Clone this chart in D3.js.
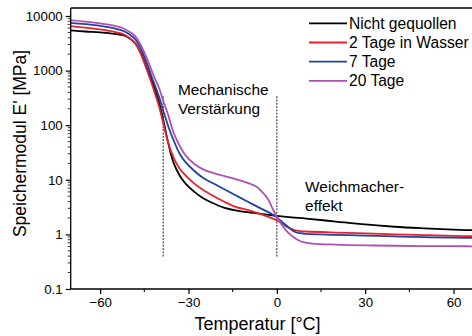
<!DOCTYPE html>
<html>
<head>
<meta charset="utf-8">
<script src="https://cdn.jsdelivr.net/npm/d3@7"></script>
<style>
  html, body { margin: 0; padding: 0; background: #fff; }
  svg { display: block; }
  text { font-family: "Liberation Sans", Arial, sans-serif; fill: #000; }
</style>
</head>
<body>
<svg id="chart" width="472" height="336"></svg>
<script>
// ---------------- DATA ----------------
const seriesNames = ["Nicht gequollen", "2 Tage in Wasser", "7 Tage", "20 Tage"];
const seriesColors = ["#000000", "#ec202a", "#1f43a4", "#b050b2"];

const tempBlack = [-70,-65,-60,-55,-52,-50,-48,-46,-44,-42,-40,-38.5,-37,-36,-35,-33,-31,-28,-25,-22,-18,-14,-10,-5,0,5,10,20,30,40,50,60,70];
const valBlack  = [5450,5200,5000,4700,4400,3900,3100,2000,1050,560,260,120,50,30,20,12,8.5,6,4.6,3.8,3.1,2.75,2.55,2.35,2.18,2.05,1.95,1.72,1.52,1.38,1.29,1.22,1.18];

const tempRed = [-70,-65,-60,-55,-52,-50,-48,-46,-44,-42,-40,-38.5,-37,-35,-33,-31,-28,-25,-22,-18,-14,-10,-5,-2,0,2,4,6,8,10,20,30,40,50,60,70];
const valRed  = [6500,6100,5700,5100,4600,3900,3100,1900,980,480,220,105,50,25,16,12,8.5,6.5,5.2,4.0,3.2,2.8,2.3,2.0,1.8,1.55,1.32,1.2,1.15,1.13,1.08,1.04,1.0,0.97,0.94,0.92];

const tempBlue = [-70,-65,-60,-55,-52,-50,-48,-46,-44,-42,-40,-38.5,-37,-35,-33,-31,-28,-25,-22,-18,-14,-10,-5,-2,0,2,4,6,8,10,20,30,40,50,60,70];
const valBlue  = [7500,7100,6600,5900,5300,4600,3700,2400,1300,650,330,180,100,52,30,21,14.5,10.8,8.8,6.8,5.2,4.0,2.9,2.4,2.05,1.65,1.35,1.12,1.05,1.02,0.98,0.95,0.92,0.89,0.87,0.86];

const tempPurple = [-70,-65,-60,-55,-52,-50,-48,-46,-44,-42,-40,-38.5,-37,-35,-33,-31,-28,-25,-22,-18,-14,-10,-7,-5,-3,-1.5,0,1.5,3,5,7,9,12,20,30,40,50,60,70];
const valPurple  = [8300,7900,7300,6600,5900,5100,4200,2800,1600,850,480,270,160,72,42,28,19.5,15.5,13.5,11.8,10.3,8.8,7.5,6.0,4.4,3.0,2.1,1.55,1.2,0.95,0.8,0.72,0.68,0.65,0.63,0.62,0.61,0.61,0.6];

const seriesTemps = [tempBlack, tempRed, tempBlue, tempPurple];
const seriesVals = [valBlack, valRed, valBlue, valPurple];

const xTicks = [-60, -30, 0, 30, 60];
const xMinorTicks = [-45, -15, 15, 45];
const yTicks = [0.1, 1, 10, 100, 1000, 10000];
const yTickLabels = ["0.1", "1", "10", "100", "1000", "10000"];

const xTitle = "Temperatur [°C]";
const yTitle = "Speichermodul E' [MPa]";

const dashTemps = [-38.6, 0];
const dashRange = [0.38, 340];

const annotations = [
  { lines: ["Mechanische", "Verstärkung"], t: -33.6, v: 357 },
  { lines: ["Weichmacher-", "effekt"], t: 9.6, v: 6.0 }
];

// ---------------- LAYOUT ----------------
const svg = d3.select("#chart");
const plotL = 70.7, plotR = 483, plotT = 8, plotB = 289;
const fontFam = "'Liberation Sans', Arial, sans-serif";

const x = d3.scaleLinear().domain([-70, 70]).range([plotL, plotR]);
const y = d3.scaleLog().domain([0.1, 14000]).range([plotB, plotT]);

svg.append("defs").append("clipPath").attr("id", "clip")
  .append("rect").attr("x", plotL).attr("y", plotT).attr("width", plotR - plotL).attr("height", plotB - plotT);

// dashed guide lines
svg.append("g").selectAll("line").data(dashTemps).join("line")
  .attr("x1", d => x(d)).attr("x2", d => x(d))
  .attr("y1", y(dashRange[1])).attr("y2", y(dashRange[0]))
  .attr("stroke", "#222").attr("stroke-width", 1).attr("stroke-dasharray", "2,1.3");

// curves
const line = d3.line().x(d => x(d[0])).y(d => y(d[1])).curve(d3.curveCatmullRom.alpha(0.5));
const gLines = svg.append("g").attr("clip-path", "url(#clip)");
seriesNames.forEach((name, i) => {
  const pts = seriesTemps[i].map((t, j) => [t, seriesVals[i][j]]);
  gLines.append("path").datum(pts)
    .attr("d", line).attr("fill", "none")
    .attr("stroke", seriesColors[i]).attr("stroke-width", 1.8)
    .attr("stroke-linejoin", "round");
});

// frame
svg.append("line").attr("x1", plotL).attr("x2", plotR).attr("y1", plotT).attr("y2", plotT)
  .attr("stroke", "#000").attr("stroke-width", 1.3);

// y axis
const yAxis = d3.axisLeft(y).tickValues(yTicks).tickFormat((d, i) => yTickLabels[i]).tickSize(5).tickPadding(3);
const gy = svg.append("g").attr("transform", `translate(${plotL},0)`).call(yAxis);
gy.select(".domain").attr("stroke-width", 1.3).attr("d", `M0,${plotT}V${plotB}`);
gy.selectAll(".tick line").attr("stroke-width", 1.2);
gy.selectAll(".tick text").attr("font-size", 13.3).attr("font-family", fontFam);

const yMinor = [];
for (let e = -1; e <= 4; e++) for (let k = 2; k <= 9; k++) { const v = k * Math.pow(10, e); if (v < 14000) yMinor.push(v); }
svg.append("g").selectAll("line").data(yMinor).join("line")
  .attr("x1", plotL - 3).attr("x2", plotL).attr("y1", d => y(d)).attr("y2", d => y(d))
  .attr("stroke", "#000").attr("stroke-width", 0.8);

// x axis
const xAxis = d3.axisBottom(x).tickValues(xTicks).tickFormat(d3.format("d")).tickSize(5).tickPadding(4);
const gx = svg.append("g").attr("transform", `translate(0,${plotB})`).call(xAxis);
gx.select(".domain").attr("stroke-width", 1.3).attr("d", `M${plotL},0H${plotR}`);
gx.selectAll(".tick line").attr("stroke-width", 1.2);
gx.selectAll(".tick text").attr("font-size", 13.3).attr("font-family", fontFam);
svg.append("g").selectAll("line").data(xMinorTicks).join("line")
  .attr("x1", d => x(d)).attr("x2", d => x(d)).attr("y1", plotB).attr("y2", plotB + 3)
  .attr("stroke", "#000").attr("stroke-width", 1);

// axis titles
svg.append("text").attr("x", 257.5).attr("y", 330).attr("text-anchor", "middle")
  .attr("font-size", 18).text(xTitle);
svg.append("text").attr("transform", "translate(26,143.5) rotate(-90)").attr("text-anchor", "middle")
  .attr("font-size", 17.5).text(yTitle);

// annotations
annotations.forEach(a => {
  const t = svg.append("text").attr("x", x(a.t)).attr("y", y(a.v)).attr("font-size", 15.4);
  a.lines.forEach((s, i) => t.append("tspan").attr("x", x(a.t)).attr("dy", i === 0 ? 0 : 19).text(s));
});

// legend
const lg = svg.append("g");
seriesNames.forEach((name, i) => {
  const yy = 23.3 + i * 19.2;
  lg.append("line").attr("x1", 309).attr("x2", 347).attr("y1", yy).attr("y2", yy)
    .attr("stroke", seriesColors[i]).attr("stroke-width", 1.8);
  lg.append("text").attr("x", 349).attr("y", yy).attr("dy", "0.35em")
    .attr("font-size", 15.6).text(name);
});
</script>
</body>
</html>
